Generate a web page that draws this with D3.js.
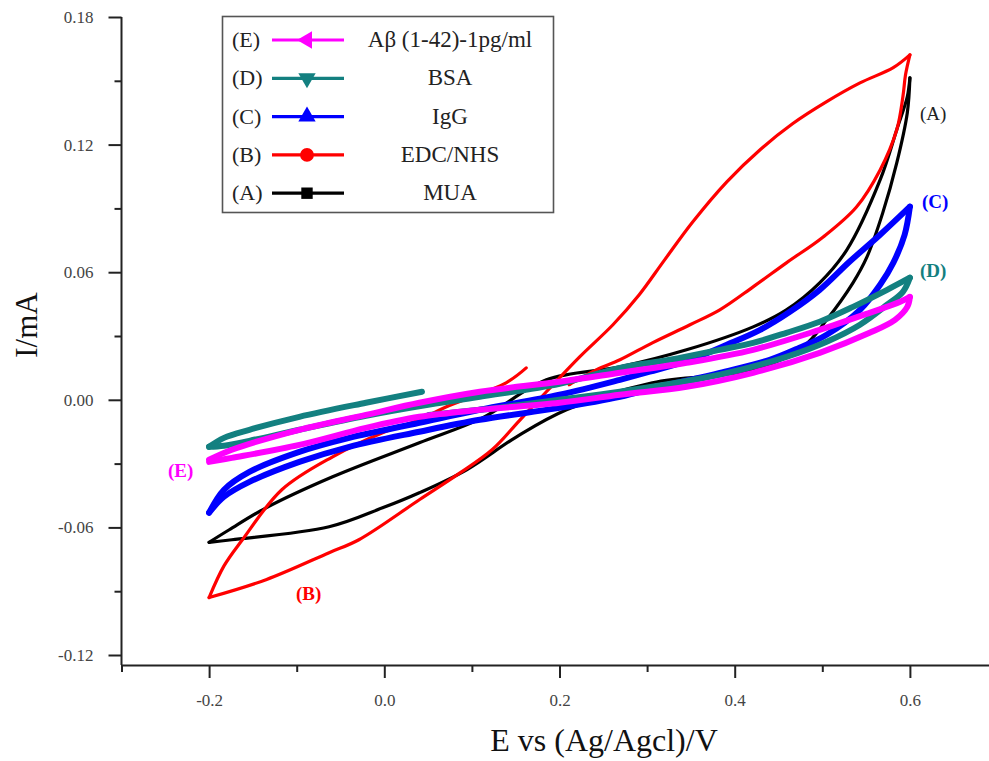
<!DOCTYPE html>
<html><head><meta charset="utf-8">
<script src="https://cdn.jsdelivr.net/npm/d3@7"></script>
<style>
html,body{margin:0;padding:0;background:#fff;}
svg{display:block;}
text{font-family:"Liberation Serif","Times New Roman",serif;}
</style></head>
<body>
<svg id="chart" width="989" height="761"></svg>
<script>
// ---------- DATA (E in V, I in mA) ----------
const seriesNames = ["MUA","EDC/NHS","IgG","BSA","A\u03b2 (1-42)-1pg/ml"];
const seriesTags  = ["(A)","(B)","(C)","(D)","(E)"];
const xMajorTicks = [-0.2,0.0,0.2,0.4,0.6];
const xMinorTicks = [-0.3,-0.1,0.1,0.3,0.5];
const yMajorTicks = [0.18,0.12,0.06,0.00,-0.06,-0.12];
const yMinorTicks = [0.15,0.09,0.03,-0.03,-0.09];

// (A) MUA
const muaForward = [[-0.2,-0.067],[-0.177,-0.0611],[-0.135,-0.0508],[-0.059,-0.0362],[0.04,-0.0202],[0.112,-0.0085],[0.185,0.0094],[0.269,0.0155],[0.345,0.0235],[0.421,0.0343],[0.459,0.0423],[0.497,0.055],[0.528,0.0705],[0.566,0.1034],[0.585,0.127],[0.597,0.1425],[0.6,0.1514]];
const muaReverse = [[0.6,0.1514],[0.597,0.1349],[0.585,0.1114],[0.569,0.0879],[0.551,0.0672],[0.535,0.055],[0.505,0.0376],[0.478,0.0249],[0.421,0.0141],[0.306,0.008],[0.208,-0.0047],[0.151,-0.0174],[0.094,-0.0329],[0.04,-0.0437],[-0.002,-0.0508],[-0.063,-0.0597],[-0.174,-0.0658],[-0.2,-0.067]];
// (B) EDC/NHS
const edcStart = [[0.162,0.015],[0.139,0.008],[0.071,-0.0033],[0.04,-0.0094],[-0.002,-0.0155],[-0.059,-0.0268],[-0.117,-0.0423],[-0.162,-0.0658],[-0.183,-0.0781],[-0.2,-0.093]];
const edcForward = [[-0.2,-0.093],[-0.135,-0.0846],[-0.063,-0.0719],[-0.029,-0.0658],[0.04,-0.047],[0.086,-0.0345],[0.123,-0.0235],[0.154,-0.0099],[0.185,0.0038],[0.223,0.0202],[0.261,0.0353],[0.291,0.0494],[0.32,0.0658],[0.352,0.0836],[0.391,0.1025],[0.429,0.1176],[0.466,0.1298],[0.505,0.1402],[0.543,0.149],[0.581,0.1562],[0.6,0.1622]];
const edcReverse = [[0.6,0.1622],[0.595,0.1528],[0.592,0.1425],[0.585,0.127],[0.566,0.1081],[0.539,0.0907],[0.501,0.0766],[0.459,0.0644],[0.421,0.0531],[0.383,0.0423],[0.349,0.0353],[0.306,0.0268],[0.269,0.0188],[0.242,0.0141],[0.211,0.0071]];
// (C) IgG
const iggForward = [[-0.2,-0.0531],[-0.183,-0.0423],[-0.154,-0.0339],[-0.097,-0.0245],[-0.04,-0.0179],[0.04,-0.0108],[0.109,-0.0047],[0.2,0.0024],[0.269,0.0094],[0.303,0.0132],[0.349,0.0188],[0.391,0.0259],[0.429,0.0329],[0.463,0.0414],[0.497,0.0517],[0.531,0.0649],[0.566,0.0776],[0.6,0.0908]];
const iggReverse = [[0.6,0.0908],[0.594,0.0776],[0.581,0.0644],[0.566,0.0541],[0.543,0.0423],[0.505,0.0306],[0.474,0.0245],[0.44,0.0188],[0.383,0.0127],[0.314,0.0061],[0.269,0.0014],[0.2,-0.0038],[0.109,-0.0094],[0.04,-0.015],[-0.04,-0.0221],[-0.097,-0.0292],[-0.154,-0.0386],[-0.183,-0.0456],[-0.2,-0.0531]];
// (D) BSA
const bsaStart = [[0.043,0.0038],[-0.021,-0.0014],[-0.097,-0.008],[-0.154,-0.0141],[-0.183,-0.0179],[-0.2,-0.0221]];
const bsaForward = [[-0.2,-0.0221],[-0.183,-0.0216],[-0.154,-0.0193],[-0.097,-0.0141],[-0.021,-0.0075],[0.043,-0.0028],[0.109,0.0014],[0.2,0.0075],[0.269,0.015],[0.326,0.0188],[0.383,0.0235],[0.421,0.0268],[0.459,0.0315],[0.497,0.0367],[0.535,0.0437],[0.574,0.0517],[0.6,0.0574]];
const bsaReverse = [[0.6,0.0574],[0.592,0.0508],[0.574,0.0447],[0.543,0.0353],[0.505,0.0273],[0.459,0.0202],[0.383,0.0118],[0.269,0.0038],[0.2,0.0],[0.109,-0.0047],[0.051,-0.0071]];
// (E) Abeta
const abForward = [[-0.2,-0.0282],[-0.174,-0.0235],[-0.097,-0.0141],[-0.021,-0.0071],[0.04,-0.0014],[0.109,0.0038],[0.2,0.0085],[0.269,0.0127],[0.345,0.0174],[0.421,0.0235],[0.497,0.0329],[0.554,0.0409],[0.589,0.0461],[0.6,0.0484]];
const abReverse = [[0.6,0.0484],[0.597,0.0437],[0.583,0.0376],[0.554,0.0315],[0.497,0.0221],[0.421,0.0127],[0.345,0.0061],[0.269,0.0024],[0.2,-0.0014],[0.109,-0.0047],[0.04,-0.008],[-0.021,-0.0132],[-0.097,-0.0212],[-0.174,-0.0273],[-0.2,-0.0292]];

// ---------- CHART ----------
const svg = d3.select("#chart");
const x = d3.scaleLinear().domain([-0.3,0.7]).range([121.5,997.5]);
const y = d3.scaleLinear().domain([-0.1247,0.18]).range([665,17]);
const axisColor = "#222";
const colors = ["#000000","#ff0000","#0000ff","#138080","#ff00ff"];
const widths = [3.2,3.2,6,6,6];
const branches = [
  [muaForward,muaReverse],
  [edcStart,edcForward,edcReverse],
  [iggForward,iggReverse],
  [bsaStart,bsaForward,bsaReverse],
  [abForward,abReverse]
];

const line = d3.line().x(d=>x(d[0])).y(d=>y(d[1])).curve(d3.curveCatmullRom.alpha(0.5));

const plot = svg.append("g");
branches.forEach((bs,i)=>{
  bs.forEach(b=>{
    plot.append("path").attr("d",line(b)).attr("fill","none")
      .attr("stroke",colors[i]).attr("stroke-width",widths[i])
      .attr("stroke-linejoin","round").attr("stroke-linecap","round");
  });
});

// Axes
const hyph = f => (d => f(d).replace("\u2212","-"));
const yAxisG = svg.append("g").attr("transform",`translate(${x(-0.3)},0)`);
yAxisG.call(d3.axisLeft(y).tickValues(yMajorTicks).tickSize(13).tickPadding(15).tickFormat(hyph(d3.format(".2f"))));
yAxisG.append("g").call(d3.axisLeft(y).tickValues(yMinorTicks).tickSize(7).tickFormat(""));
const xAxisG = svg.append("g").attr("transform",`translate(0,${y.range()[0]})`);
xAxisG.call(d3.axisBottom(x).tickValues(xMajorTicks).tickSize(13).tickPadding(16).tickFormat(hyph(d3.format(".1f"))));
xAxisG.append("g").call(d3.axisBottom(x).tickValues(xMinorTicks).tickSize(7).tickFormat(""));
svg.selectAll(".domain").attr("stroke",axisColor).attr("stroke-width",2);
svg.selectAll(".tick line").attr("stroke",axisColor).attr("stroke-width",2);
svg.selectAll(".tick text").attr("fill","#444").style("font-size","17px").style("font-family","'Liberation Serif',serif");
yAxisG.select("g .domain").remove();
xAxisG.select("g .domain").remove();
yAxisG.selectAll(".domain").attr("d",`M0,${y(0.18)}V${y.range()[0]}`);

// Axis titles
svg.append("text").attr("x",604).attr("y",751).attr("text-anchor","middle")
  .style("font-size","32px").attr("fill","#111").text("E vs (Ag/Agcl)/V");
svg.append("text").attr("transform","translate(37,325) rotate(-90)").attr("text-anchor","middle")
  .style("font-size","31px").attr("fill","#111").text("I/mA");

// Curve tags
const tagWeight = ["normal","bold","bold","bold","bold"];
const tagPx = [[920,120],[296,600],[922,208],[920,277],[168,477]];
seriesTags.forEach((t,i)=>{
  svg.append("text").attr("x",tagPx[i][0]).attr("y",tagPx[i][1])
    .style("font-size","19px").style("font-weight",tagWeight[i]).attr("fill",i===0?"#222":colors[i]).text(t);
});

// Legend
const lg = svg.append("g");
lg.append("rect").attr("x",222.5).attr("y",16.5).attr("width",331).attr("height",196)
  .attr("fill","#fff").attr("stroke","#555").attr("stroke-width",1.6);
const order = [4,3,2,1,0];
const symbols = [d3.symbolSquare,d3.symbolCircle,d3.symbolTriangle,d3.symbolTriangle,d3.symbolTriangle];
const rot = [0,0,0,180,-90];
order.forEach((si,row)=>{
  const cy = 40 + row*38.3;
  lg.append("text").attr("x",232).attr("y",cy+7).style("font-size","22px").attr("fill","#222").text(seriesTags[si]);
  lg.append("line").attr("x1",272).attr("x2",344).attr("y1",cy).attr("y2",cy)
    .attr("stroke",colors[si]).attr("stroke-width",3.2);
  lg.append("path").attr("d",d3.symbol().type(symbols[si]).size(si===1?150:130)())
    .attr("transform",`translate(307,${cy}) rotate(${rot[si]})`).attr("fill",colors[si]);
  lg.append("text").attr("x",450).attr("y",cy+7).attr("text-anchor","middle")
    .style("font-size","23px").attr("fill","#222").text(seriesNames[si]);
});
</script>
</body></html>
